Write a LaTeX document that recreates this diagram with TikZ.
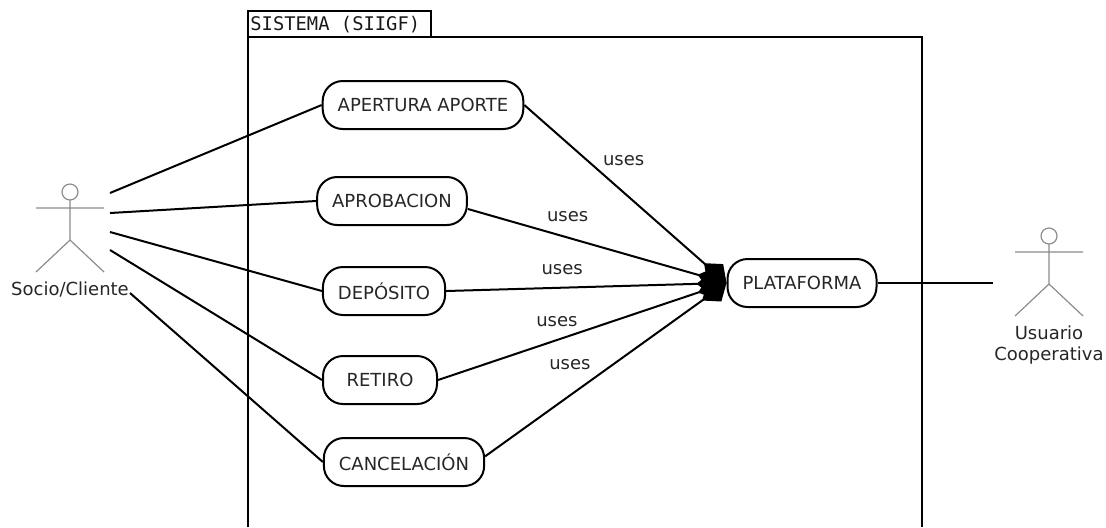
\documentclass[tikz,border=0pt]{standalone}
\usepackage{fontspec}
\setmainfont{DejaVu Sans}
\setmonofont{DejaVu Sans Mono}
\usetikzlibrary{arrows.meta,calc,positioning}
\tikzset{
	usecase/.style={
		rectangle,
		rounded corners=10pt,
		line width=1pt,
		draw=black,
		text=black!85,
		minimum height=24pt,
		minimum width=57pt,
		inner xsep=7.5pt
	},
	actor/.style={
		rectangle,
		minimum width=36pt,
		minimum height=46pt,
		label distance=5.5pt,
		path picture={
			\coordinate (c) at (path picture bounding box.center);
			\draw[black!45,line width=0.6pt]
				($(c)+(0,-36)$) circle[radius=4pt]
				($(c)+(0,-28)$) -- ($(c)+(0,12)$)
				($(c)+(-34,-20)$) -- ($(c)+(34,-20)$)
				($(c)+(-34,44)$) -- ($(c)+(0,12)$) -- ($(c)+(34,44)$);
		}
	},
	actorname/.style={
		text=black!85,
		align=center
	},
	assoc/.style={
		line width=1pt
	},
	uses/.style={
		line width=1pt,
		-{Diamond[length=15pt,width=12pt]}
	},
	useslabel/.style={
		inner sep=0pt,
		text=black!85
	},
	frame/.style={
		line width=1pt
	}
}
\begin{document}
\begin{tikzpicture}[x=0.5pt,y=-0.5pt,font=\fontsize{9}{10.5}\selectfont]
		\useasboundingbox (0,0) rectangle (1106,527);
		% system boundary
		\draw[frame] (248,527) -- (248,37) -- (922,37) -- (922,527);
		\draw[frame] (248,37) -- (248,11) -- (431,11) -- (431,37);
		\node [anchor=west,inner sep=0pt,text=black!90,font=\fontsize{9.4}{11}\ttfamily] (sys) at (250,25) {SISTEMA (SIIGF)};
		% actors
		\node [actor,label={[actorname]below:Socio/Cliente}] (socio) at (70,228) {};
		\node [actor,label={[actorname]below:Usuario\\Cooperativa}] (usuario) at (1049,272) {};
		% use cases
		\node [usecase] (c1) at (423,105) {APERTURA APORTE};
		\node [usecase] (c2) at (392,201) {APROBACION};
		\node [usecase] (c3) at (384,291) {DEPÓSITO};
		\node [usecase] (c4) at (380,380) {RETIRO};
		\node [usecase] (c5) at (404,462) {CANCELACIÓN};
		\node [usecase] (plat) at (802,283) {PLATAFORMA};
		% socio
		\draw[assoc] ($(socio)+(40,-35)$) -- (c1.west);
		\draw[assoc] ($(socio)+(40,-15)$) -- (c2.west);
		\draw[assoc] ($(socio)+(40,4)$) -- (c3.west);
		\draw[assoc] ($(socio)+(40,22)$) -- (c4.west);
		\draw[assoc] ($(socio)+(60,65)$) -- (c5.west);
		% uses
		\draw[uses] (c1.east) -- (plat.west) node[useslabel,pos=0.31,anchor=west,xshift=7.5pt] {uses};
		\draw[uses] (c2.-6) -- (plat.west) node[useslabel,pos=0.386,above=7.5pt] {uses};
		\draw[uses] (c3.east) -- (plat.west) node[useslabel,pos=0.414,above=6pt] {uses};
		\draw[uses] (c4.east) -- (plat.west) node[useslabel,pos=0.412,above=6pt] {uses};
		\draw[uses] (c5.4) -- (plat.west) node[useslabel,pos=0.532,anchor=east,xshift=-11pt] {uses};
		% usuario
		\draw[assoc] (plat.east) -- ($(usuario)+(-56,11)$);
\end{tikzpicture}
\end{document}
